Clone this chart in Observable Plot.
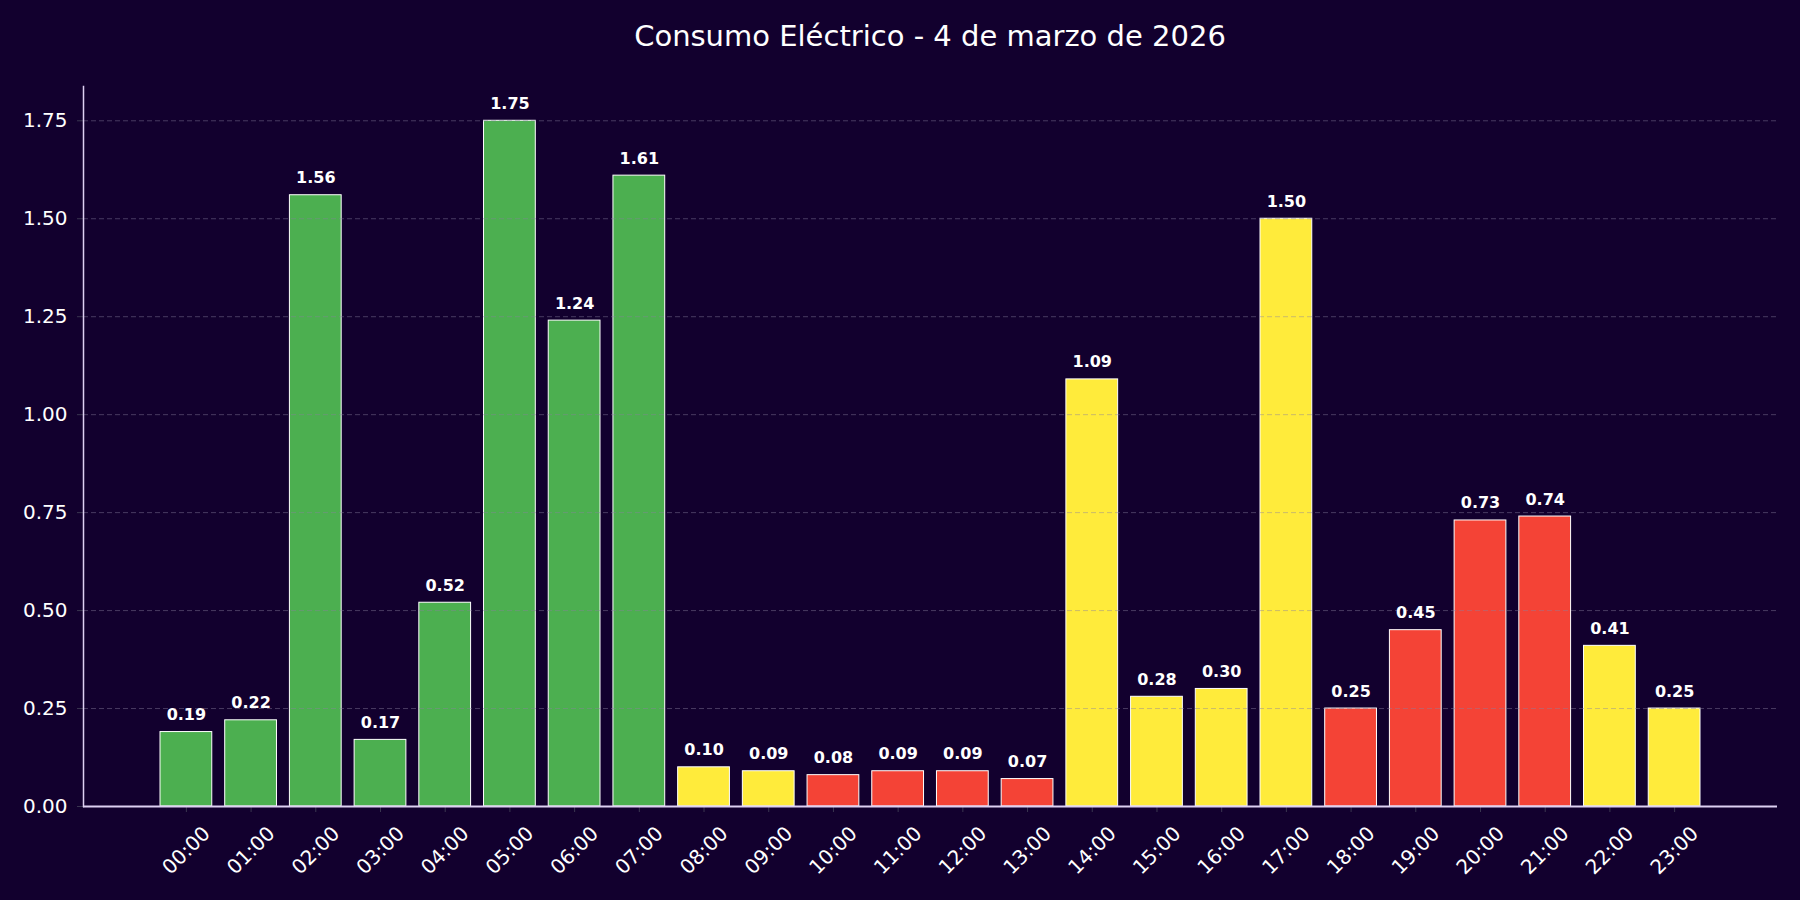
<!DOCTYPE html>
<html>
<head>
<meta charset="utf-8">
<script src="https://cdn.jsdelivr.net/npm/d3@7"></script>
<script src="https://cdn.jsdelivr.net/npm/@observablehq/plot@0.6"></script>
<style>
  html, body { margin: 0; padding: 0; background: #12002e; }
  body { width: 1800px; height: 900px; overflow: hidden; font-family: "DejaVu Sans", sans-serif; }
  #title { height: 70px; line-height: 72px; margin-left: 83px; width: 1694px; text-align: center; color: #ffffff; font-size: 29px; }
</style>
</head>
<body>
<div id="title">Consumo Eléctrico - 4 de marzo de 2026</div>
<div id="chart"></div>
<script>
const hours = ["00:00","01:00","02:00","03:00","04:00","05:00","06:00","07:00","08:00","09:00","10:00","11:00","12:00","13:00","14:00","15:00","16:00","17:00","18:00","19:00","20:00","21:00","22:00","23:00"];
const consumo = [0.19,0.22,1.56,0.17,0.52,1.75,1.24,1.61,0.10,0.09,0.08,0.09,0.09,0.07,1.09,0.28,0.30,1.50,0.25,0.45,0.73,0.74,0.41,0.25];
const periodo = ["Valle","Valle","Valle","Valle","Valle","Valle","Valle","Valle","Llano","Llano","Punta","Punta","Punta","Punta","Llano","Llano","Llano","Llano","Punta","Punta","Punta","Punta","Llano","Llano"];
const periodos = ["Valle","Llano","Punta"];
const colores = ["#4caf50","#ffeb3b","#f44336"];
const yTicks = [0,0.25,0.5,0.75,1.0,1.25,1.5,1.75];

const data = hours.map((h, i) => ({hour: h, value: consumo[i], periodo: periodo[i]}));

const chart = Plot.plot({
  width: 1800,
  height: 830,
  marginTop: 16,
  marginBottom: 94,
  marginLeft: 83,
  marginRight: 23,
  style: {background: "#12002e", color: "#ffffff", fontFamily: "DejaVu Sans, sans-serif", fontSize: "18px"},
  x: {domain: hours, paddingInner: 0.2, paddingOuter: 1.19, round: false, axis: null, label: null},
  y: {domain: [0, 1.8375], axis: null, label: null},
  color: {domain: periodos, range: colores},
  marks: [
    Plot.barY(data, {x: "hour", y: "value", fill: "periodo", stroke: "#ffffff", strokeWidth: 1}),
    Plot.ruleY(yTicks.filter(d => d > 0), {stroke: "#8a80a0", strokeOpacity: 0.45, strokeDasharray: "5,3", strokeWidth: 1}),
    Plot.axisY({ticks: yTicks, tickFormat: d => d.toFixed(2), tickSize: 6, tickPadding: 10, stroke: "#3a3550", fill: "#ffffff", fontSize: 20, label: null}),
    Plot.axisX({tickSize: 6, tickFormat: () => "", stroke: "#3a3550", label: null}),
    Plot.text(hours, {x: d => d, frameAnchor: "bottom", dy: 44, rotate: -45, textAnchor: "middle", lineAnchor: "middle", fill: "#ffffff", fontSize: 20}),
    Plot.frame({anchor: "left", stroke: "#ddd0f2", strokeWidth: 1.5}),
    Plot.ruleY([0], {stroke: "#ddd0f2", strokeWidth: 2}),
    Plot.text(data, {x: "hour", y: "value", text: d => d.value.toFixed(2), dy: -12, lineAnchor: "bottom", fill: "#ffffff", fontWeight: "bold", fontSize: 16})
  ]
});
document.getElementById("chart").appendChild(chart);
</script>
</body>
</html>
